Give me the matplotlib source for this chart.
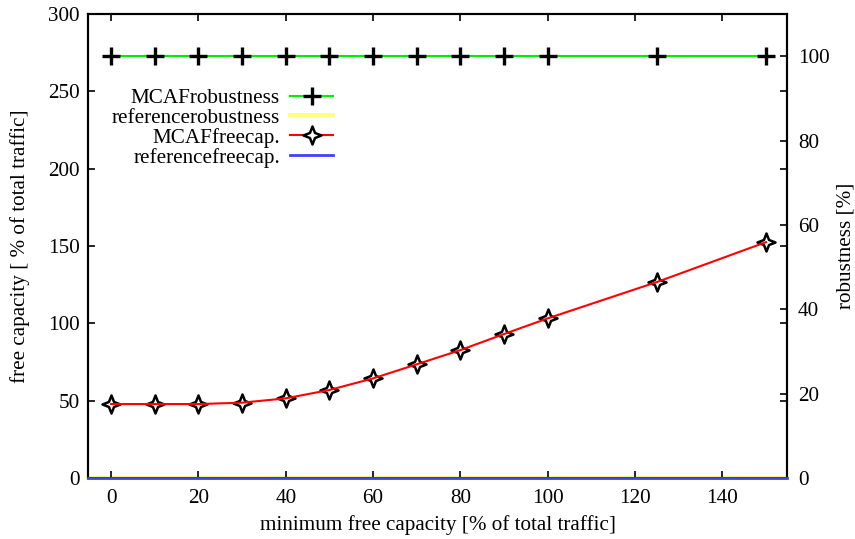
import matplotlib
matplotlib.use("Agg")
import matplotlib.pyplot as plt
from matplotlib.path import Path

plt.rcParams['font.family'] = ['Liberation Serif', 'DejaVu Serif']
FS = 15.2
plt.rcParams['font.size'] = FS

# data
x_vals = [0, 10, 20, 30, 40, 50, 60, 70, 80, 90, 100, 125, 150]
mcaf_robustness = [100, 100, 100, 100, 100, 100, 100, 100, 100, 100, 100, 100, 100]
reference_robustness = 0
mcaf_freecap = [47.8, 47.8, 47.8, 48.7, 51.5, 56.9, 64.4, 73.5, 82.7, 93.1, 103.2, 126.7, 152.5]
reference_freecap = 0
x_ticks = [0, 20, 40, 60, 80, 100, 120, 140]
y_ticks = [0, 50, 100, 150, 200, 250, 300]
y2_ticks = [0, 20, 40, 60, 80, 100]

star = Path([(0, 1), (0.28, 0.28), (1, 0), (0.28, -0.28), (0, -1),
             (-0.28, -0.28), (-1, 0), (-0.28, 0.28), (0, 1)],
            [Path.MOVETO] + [Path.LINETO] * 7 + [Path.CLOSEPOLY])

fig = plt.figure(figsize=(8.55, 5.39), dpi=100)
ax = fig.add_axes([88 / 855, 61 / 539, 699 / 855, 464 / 539])
ax2 = ax.twinx()

# robustness on right axis
ax2.plot(x_vals, mcaf_robustness, color='#00ee00', lw=1.5, marker='+',
         markersize=13, markeredgewidth=2.4, markeredgecolor='black',
         label='MCAFrobustness', zorder=3)
ax2.axhline(reference_robustness, color='#ffff80', lw=3,
            label='referencerobustness', clip_on=False, zorder=4)

ax.set_zorder(ax2.get_zorder() + 1)
ax.patch.set_visible(False)
ax.plot(x_vals, mcaf_freecap, linestyle='none', marker=star, markersize=13,
        markerfacecolor='white', markeredgecolor='black', markeredgewidth=1.8,
        zorder=3)
ax.plot(x_vals, mcaf_freecap, color='#ff0000', lw=1.5, zorder=4)
fc_handle, = ax.plot([], [], color='#ff0000', lw=1.5, marker=star, markersize=13,
                     markerfacecolor='white', markeredgecolor='black',
                     markeredgewidth=1.8, label='MCAFfreecap.')
ax.axhline(reference_freecap, color='#4040ff', lw=2,
           label='referencefreecap.', clip_on=False, zorder=5)

ax.set_xlim(-5.3, 154.8)
ax.set_ylim(0, 300)
ax2.set_ylim(0, 110)
ax.set_xticks(x_ticks)
ax.set_yticks(y_ticks)
ax2.set_yticks(y2_ticks)

ax.tick_params(direction='in', top=True, right=True, length=5, width=1.2,
               labelsize=FS)
ax.tick_params(axis='y', pad=6)
ax.tick_params(axis='x', pad=8)
ax2.tick_params(direction='in', length=5, width=1.2, labelsize=FS, pad=8)
for a in (ax, ax2):
    for s in a.spines.values():
        s.set_linewidth(1.5)

ax.set_xlabel('minimum free capacity [% of total traffic]', fontsize=FS, labelpad=5)
ax.set_ylabel('free capacity [ % of total traffic]', fontsize=FS, labelpad=13)
ax2.set_ylabel('robustness [%]', fontsize=FS, labelpad=5)

h2, l2 = ax2.get_legend_handles_labels()
h1, l1 = ax.get_legend_handles_labels()
leg = ax.legend(h2 + h1, l2 + l1, loc='upper right', bbox_to_anchor=(0.35, 0.84),
                markerfirst=False, frameon=False, borderaxespad=0, borderpad=0,
                handlelength=2.0, handletextpad=0.5, labelspacing=0.0,
                fontsize=FS)

fig.savefig('out.png', dpi=100)
